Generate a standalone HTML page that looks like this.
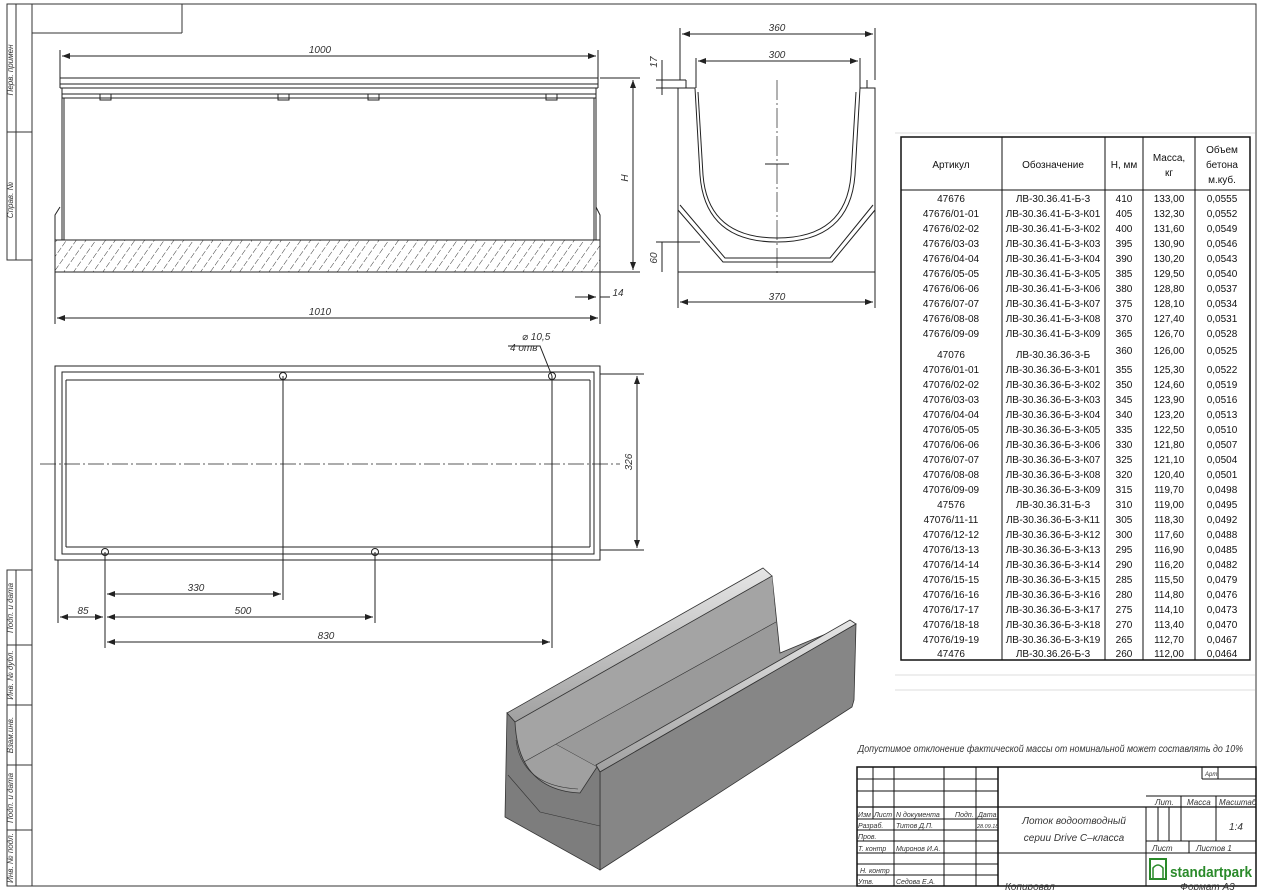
<!DOCTYPE html>
<html><head><meta charset="utf-8"><style>
html,body{margin:0;padding:0;background:#fff}
svg{display:block;font-family:"Liberation Sans","DejaVu Sans",sans-serif}
.t{font-style:italic;font-size:10px;fill:#333}
.tb{font-size:10px;fill:#111}
</style></head><body>
<svg width="1261" height="890" viewBox="0 0 1261 890" xmlns="http://www.w3.org/2000/svg">
<defs>
<pattern id="h" width="8" height="8" patternUnits="userSpaceOnUse" patternTransform="rotate(35)">
<line x1="0" y1="0" x2="0" y2="8" stroke="#222" stroke-width="0.9" stroke-dasharray="6 2"/>
</pattern>
<marker id="a" markerWidth="8" markerHeight="6" refX="8" refY="3" orient="auto-start-reverse"><path d="M0,0L8,3L0,6z" fill="#222"/></marker>
<linearGradient id="rail" x1="0" y1="0" x2="0" y2="1"><stop offset="0" stop-color="#e6e6e6"/><stop offset="1" stop-color="#a0a0a0"/></linearGradient>
</defs>
<g fill="none" stroke="#333" stroke-width="1">
<rect x="32" y="4" width="1224" height="882"/>
<line x1="32" y1="33" x2="182" y2="33"/><line x1="182" y1="4" x2="182" y2="33"/>
<rect x="7" y="4" width="25" height="256"/><line x1="16" y1="4" x2="16" y2="260"/><line x1="7" y1="132" x2="32" y2="132"/>
<rect x="7" y="570" width="25" height="316"/><line x1="16" y1="570" x2="16" y2="886"/>
<line x1="7" y1="645" x2="32" y2="645"/><line x1="7" y1="705" x2="32" y2="705"/><line x1="7" y1="765" x2="32" y2="765"/><line x1="7" y1="830" x2="32" y2="830"/>
</g>
<g class="t" font-size="8">
<text transform="translate(13,70) rotate(-90)" text-anchor="middle" font-size="8">Перв. примен</text>
<text transform="translate(13,200) rotate(-90)" text-anchor="middle" font-size="8">Справ. №</text>
<text transform="translate(13,608) rotate(-90)" text-anchor="middle" font-size="8">Подп. и дата</text>
<text transform="translate(13,675) rotate(-90)" text-anchor="middle" font-size="8">Инв. № дубл.</text>
<text transform="translate(13,735) rotate(-90)" text-anchor="middle" font-size="8">Взам.инв.</text>
<text transform="translate(13,798) rotate(-90)" text-anchor="middle" font-size="8">Подп. и дата</text>
<text transform="translate(13,858) rotate(-90)" text-anchor="middle" font-size="8">Инв. № подл.</text>
</g>

<!-- side view -->
<g fill="none" stroke="#222" stroke-width="1">
<rect x="55" y="240" width="545" height="32" fill="url(#h)"/>
<line x1="60" y1="78" x2="598" y2="78"/><line x1="60" y1="84" x2="598" y2="84"/>
<line x1="60" y1="88" x2="598" y2="88"/><line x1="62" y1="94" x2="596" y2="94"/><line x1="62" y1="98" x2="596" y2="98"/>
<line x1="60" y1="78" x2="60" y2="88"/><line x1="598" y1="78" x2="598" y2="88"/>
<line x1="62" y1="88" x2="62" y2="240"/><line x1="64" y1="98" x2="64" y2="240"/>
<line x1="596" y1="88" x2="596" y2="240"/><line x1="594" y1="98" x2="594" y2="240"/>
<path d="M55,272 V215 L60,207"/><path d="M600,272 V215 L596,207"/>
<rect x="100" y="94" width="11" height="6"/><rect x="278" y="94" width="11" height="6"/><rect x="368" y="94" width="11" height="6"/><rect x="546" y="94" width="11" height="6"/>
<line x1="60" y1="78" x2="60" y2="50"/><line x1="598" y1="78" x2="598" y2="50"/>
<line x1="62" y1="56" x2="596" y2="56" marker-start="url(#a)" marker-end="url(#a)"/>
<line x1="600" y1="78" x2="640" y2="78"/><line x1="600" y1="272" x2="640" y2="272"/>
<line x1="633" y1="80" x2="633" y2="270" marker-start="url(#a)" marker-end="url(#a)"/>
<line x1="55" y1="272" x2="55" y2="324"/><line x1="600" y1="272" x2="600" y2="324"/>
<line x1="57" y1="318" x2="598" y2="318" marker-start="url(#a)" marker-end="url(#a)"/>
<line x1="575" y1="297" x2="596" y2="297" marker-end="url(#a)"/><line x1="600" y1="297" x2="610" y2="297"/>
</g>
<text class="t" x="320" y="53" text-anchor="middle">1000</text>
<text class="t" transform="translate(628,178) rotate(-90)" text-anchor="middle">H</text>
<text class="t" x="320" y="315" text-anchor="middle">1010</text>
<text class="t" x="618" y="296" text-anchor="middle" font-size="9">14</text>

<!-- plan view -->
<g fill="none" stroke="#222" stroke-width="1">
<rect x="55" y="366" width="545" height="194"/>
<rect x="62" y="372" width="532" height="182"/>
<line x1="66" y1="380" x2="590" y2="380"/><line x1="66" y1="547" x2="590" y2="547"/>
<line x1="66" y1="380" x2="66" y2="547"/><line x1="590" y1="380" x2="590" y2="547"/>
<line x1="40" y1="464" x2="620" y2="464" stroke-dasharray="16 3 2 3" stroke-width="0.7"/>
<line x1="283" y1="380" x2="283" y2="547" stroke-width="0.7"/>
<circle cx="283" cy="376" r="3.5"/><circle cx="552" cy="376" r="3.5"/><circle cx="105" cy="552" r="3.5"/><circle cx="375" cy="552" r="3.5"/>
<line x1="600" y1="374" x2="644" y2="374"/><line x1="600" y1="550" x2="644" y2="550"/>
<line x1="637" y1="376" x2="637" y2="548" marker-start="url(#a)" marker-end="url(#a)"/>
<line x1="283" y1="376" x2="283" y2="600"/><line x1="552" y1="376" x2="552" y2="648"/><line x1="105" y1="552" x2="105" y2="648"/><line x1="375" y1="552" x2="375" y2="623"/><line x1="58" y1="560" x2="58" y2="623"/>
<line x1="107" y1="594" x2="281" y2="594" marker-start="url(#a)" marker-end="url(#a)"/>
<line x1="107" y1="617" x2="373" y2="617" marker-start="url(#a)" marker-end="url(#a)"/>
<line x1="60" y1="617" x2="103" y2="617" marker-start="url(#a)" marker-end="url(#a)"/>
<line x1="107" y1="642" x2="550" y2="642" marker-start="url(#a)" marker-end="url(#a)"/>
<path d="M552,376 L540,346 H508"/>
</g>
<text class="t" x="522" y="340">⌀ 10,5</text><text class="t" x="510" y="351">4 отв</text>
<text class="t" transform="translate(632,462) rotate(-90)" text-anchor="middle">326</text>
<text class="t" x="196" y="591" text-anchor="middle">330</text>
<text class="t" x="243" y="614" text-anchor="middle">500</text>
<text class="t" x="83" y="614" text-anchor="middle">85</text>
<text class="t" x="326" y="639" text-anchor="middle">830</text>

<!-- cross section -->
<g fill="none" stroke="#222" stroke-width="1">
<path d="M678,272 V88 H686 V80 M875,272 V88 H867 V80"/>
<line x1="678" y1="272" x2="875" y2="272"/>
<path d="M686,88 H695 L700,175 Q705,242 777,242 Q850,242 855,175 L860,88 H867"/>
<path d="M698,92 L703,175 Q708,238 777,238 Q846,238 851,175 L856,92"/>
<path d="M678,210 L723,262 H832 L875,210"/><path d="M680,205 L725,258 H830 L873,205"/>
<line x1="777" y1="80" x2="777" y2="275" stroke-dasharray="20 3 2 3" stroke-width="0.7"/>
<line x1="765" y1="164" x2="789" y2="164"/>
<line x1="680" y1="80" x2="680" y2="28"/><line x1="875" y1="80" x2="875" y2="28"/>
<line x1="682" y1="34" x2="873" y2="34" marker-start="url(#a)" marker-end="url(#a)"/>
<line x1="696" y1="88" x2="696" y2="58"/><line x1="860" y1="88" x2="860" y2="58"/>
<line x1="698" y1="61" x2="858" y2="61" marker-start="url(#a)" marker-end="url(#a)"/>
<line x1="678" y1="272" x2="678" y2="308"/><line x1="875" y1="272" x2="875" y2="308"/>
<line x1="680" y1="302" x2="873" y2="302" marker-start="url(#a)" marker-end="url(#a)"/>
<line x1="656" y1="80" x2="686" y2="80"/><line x1="656" y1="88" x2="686" y2="88"/><line x1="662" y1="60" x2="662" y2="95"/>
<line x1="656" y1="242" x2="700" y2="242"/><line x1="662" y1="242" x2="662" y2="272"/>
</g>
<text class="t" x="777" y="31" text-anchor="middle">360</text>
<text class="t" x="777" y="58" text-anchor="middle">300</text>
<text class="t" x="777" y="300" text-anchor="middle">370</text>
<text class="t" transform="translate(657,62) rotate(-90)" text-anchor="middle" font-size="9">17</text>
<text class="t" transform="translate(657,258) rotate(-90)" text-anchor="middle" font-size="9">60</text>

<!-- 3D render -->
<g stroke="#333" stroke-width="0.8">
<polygon points="515,722 772,576 780,653 850,624 597,767" fill="#9a9a9a"/>
<path d="M515,722 Q518,790 580,793 L597,767 Z" fill="#a0a0a0" stroke="none"/>
<polygon points="515,722 772,576 776,622 522,763" fill="#a4a4a4" stroke="none"/>
<line x1="522" y1="763" x2="776" y2="622" stroke-width="0.6"/>
<polygon points="507,713 763,568 772,576 515,722" fill="url(#rail)"/>
<polygon points="596,765 850,620 856,624 600,772" fill="url(#rail)"/>
<polygon points="600,772 856,624 854,700 852,707 600,870" fill="#868686"/>
<path d="M507,713 L515,722 Q518,790 580,793 L597,767 L600,772 L600,870 L505,817 Z" fill="#7d7d7d"/>
<path d="M508,775 L540,812 L600,826" fill="none" stroke-width="0.6"/>
<path d="M516,740 Q522,786 578,789" fill="none" stroke-width="0.6"/>
</g>

<!-- table -->
<g fill="none" stroke="#ddd" stroke-width="1">
<line x1="895" y1="133" x2="1255" y2="133"/><line x1="895" y1="675" x2="1255" y2="675"/><line x1="895" y1="690" x2="1255" y2="690"/>
</g>
<g fill="none" stroke="#111" stroke-width="1">
<rect x="901" y="137" width="349" height="523" stroke-width="1.5"/>
<line x1="901" y1="190" x2="1250" y2="190"/>
<line x1="1002" y1="137" x2="1002" y2="660"/><line x1="1105" y1="137" x2="1105" y2="660"/>
<line x1="1143" y1="137" x2="1143" y2="660"/><line x1="1195" y1="137" x2="1195" y2="660"/>
</g>
<g class="tb" text-anchor="middle">
<text x="951" y="168">Артикул</text><text x="1053" y="168">Обозначение</text><text x="1124" y="168">H, мм</text>
<text x="1169" y="161">Масса,</text><text x="1169" y="176">кг</text>
<text x="1222" y="153">Объем</text><text x="1222" y="168">бетона</text><text x="1222" y="183">м.куб.</text>
</g>
<g class="tb" text-anchor="middle">
<text x="951" y="202">47676</text><text x="1053" y="202">ЛВ-30.36.41-Б-3</text><text x="1124" y="202">410</text><text x="1169" y="202">133,00</text><text x="1222" y="202">0,0555</text>
<text x="951" y="217">47676/01-01</text><text x="1053" y="217">ЛВ-30.36.41-Б-3-К01</text><text x="1124" y="217">405</text><text x="1169" y="217">132,30</text><text x="1222" y="217">0,0552</text>
<text x="951" y="232">47676/02-02</text><text x="1053" y="232">ЛВ-30.36.41-Б-3-К02</text><text x="1124" y="232">400</text><text x="1169" y="232">131,60</text><text x="1222" y="232">0,0549</text>
<text x="951" y="247">47676/03-03</text><text x="1053" y="247">ЛВ-30.36.41-Б-3-К03</text><text x="1124" y="247">395</text><text x="1169" y="247">130,90</text><text x="1222" y="247">0,0546</text>
<text x="951" y="262">47676/04-04</text><text x="1053" y="262">ЛВ-30.36.41-Б-3-К04</text><text x="1124" y="262">390</text><text x="1169" y="262">130,20</text><text x="1222" y="262">0,0543</text>
<text x="951" y="277">47676/05-05</text><text x="1053" y="277">ЛВ-30.36.41-Б-3-К05</text><text x="1124" y="277">385</text><text x="1169" y="277">129,50</text><text x="1222" y="277">0,0540</text>
<text x="951" y="292">47676/06-06</text><text x="1053" y="292">ЛВ-30.36.41-Б-3-К06</text><text x="1124" y="292">380</text><text x="1169" y="292">128,80</text><text x="1222" y="292">0,0537</text>
<text x="951" y="307">47676/07-07</text><text x="1053" y="307">ЛВ-30.36.41-Б-3-К07</text><text x="1124" y="307">375</text><text x="1169" y="307">128,10</text><text x="1222" y="307">0,0534</text>
<text x="951" y="322">47676/08-08</text><text x="1053" y="322">ЛВ-30.36.41-Б-3-К08</text><text x="1124" y="322">370</text><text x="1169" y="322">127,40</text><text x="1222" y="322">0,0531</text>
<text x="951" y="337">47676/09-09</text><text x="1053" y="337">ЛВ-30.36.41-Б-3-К09</text><text x="1124" y="337">365</text><text x="1169" y="337">126,70</text><text x="1222" y="337">0,0528</text>
<text x="951" y="358">47076</text><text x="1053" y="358">ЛВ-30.36.36-3-Б</text><text x="1124" y="354">360</text><text x="1169" y="354">126,00</text><text x="1222" y="354">0,0525</text>
<text x="951" y="373">47076/01-01</text><text x="1053" y="373">ЛВ-30.36.36-Б-3-К01</text><text x="1124" y="373">355</text><text x="1169" y="373">125,30</text><text x="1222" y="373">0,0522</text>
<text x="951" y="388">47076/02-02</text><text x="1053" y="388">ЛВ-30.36.36-Б-3-К02</text><text x="1124" y="388">350</text><text x="1169" y="388">124,60</text><text x="1222" y="388">0,0519</text>
<text x="951" y="403">47076/03-03</text><text x="1053" y="403">ЛВ-30.36.36-Б-3-К03</text><text x="1124" y="403">345</text><text x="1169" y="403">123,90</text><text x="1222" y="403">0,0516</text>
<text x="951" y="418">47076/04-04</text><text x="1053" y="418">ЛВ-30.36.36-Б-3-К04</text><text x="1124" y="418">340</text><text x="1169" y="418">123,20</text><text x="1222" y="418">0,0513</text>
<text x="951" y="433">47076/05-05</text><text x="1053" y="433">ЛВ-30.36.36-Б-3-К05</text><text x="1124" y="433">335</text><text x="1169" y="433">122,50</text><text x="1222" y="433">0,0510</text>
<text x="951" y="448">47076/06-06</text><text x="1053" y="448">ЛВ-30.36.36-Б-3-К06</text><text x="1124" y="448">330</text><text x="1169" y="448">121,80</text><text x="1222" y="448">0,0507</text>
<text x="951" y="463">47076/07-07</text><text x="1053" y="463">ЛВ-30.36.36-Б-3-К07</text><text x="1124" y="463">325</text><text x="1169" y="463">121,10</text><text x="1222" y="463">0,0504</text>
<text x="951" y="478">47076/08-08</text><text x="1053" y="478">ЛВ-30.36.36-Б-3-К08</text><text x="1124" y="478">320</text><text x="1169" y="478">120,40</text><text x="1222" y="478">0,0501</text>
<text x="951" y="493">47076/09-09</text><text x="1053" y="493">ЛВ-30.36.36-Б-3-К09</text><text x="1124" y="493">315</text><text x="1169" y="493">119,70</text><text x="1222" y="493">0,0498</text>
<text x="951" y="508">47576</text><text x="1053" y="508">ЛВ-30.36.31-Б-3</text><text x="1124" y="508">310</text><text x="1169" y="508">119,00</text><text x="1222" y="508">0,0495</text>
<text x="951" y="523">47076/11-11</text><text x="1053" y="523">ЛВ-30.36.36-Б-3-К11</text><text x="1124" y="523">305</text><text x="1169" y="523">118,30</text><text x="1222" y="523">0,0492</text>
<text x="951" y="538">47076/12-12</text><text x="1053" y="538">ЛВ-30.36.36-Б-3-К12</text><text x="1124" y="538">300</text><text x="1169" y="538">117,60</text><text x="1222" y="538">0,0488</text>
<text x="951" y="553">47076/13-13</text><text x="1053" y="553">ЛВ-30.36.36-Б-3-К13</text><text x="1124" y="553">295</text><text x="1169" y="553">116,90</text><text x="1222" y="553">0,0485</text>
<text x="951" y="568">47076/14-14</text><text x="1053" y="568">ЛВ-30.36.36-Б-3-К14</text><text x="1124" y="568">290</text><text x="1169" y="568">116,20</text><text x="1222" y="568">0,0482</text>
<text x="951" y="583">47076/15-15</text><text x="1053" y="583">ЛВ-30.36.36-Б-3-К15</text><text x="1124" y="583">285</text><text x="1169" y="583">115,50</text><text x="1222" y="583">0,0479</text>
<text x="951" y="598">47076/16-16</text><text x="1053" y="598">ЛВ-30.36.36-Б-3-К16</text><text x="1124" y="598">280</text><text x="1169" y="598">114,80</text><text x="1222" y="598">0,0476</text>
<text x="951" y="613">47076/17-17</text><text x="1053" y="613">ЛВ-30.36.36-Б-3-К17</text><text x="1124" y="613">275</text><text x="1169" y="613">114,10</text><text x="1222" y="613">0,0473</text>
<text x="951" y="628">47076/18-18</text><text x="1053" y="628">ЛВ-30.36.36-Б-3-К18</text><text x="1124" y="628">270</text><text x="1169" y="628">113,40</text><text x="1222" y="628">0,0470</text>
<text x="951" y="643">47076/19-19</text><text x="1053" y="643">ЛВ-30.36.36-Б-3-К19</text><text x="1124" y="643">265</text><text x="1169" y="643">112,70</text><text x="1222" y="643">0,0467</text>
<text x="951" y="657">47476</text><text x="1053" y="657">ЛВ-30.36.26-Б-3</text><text x="1124" y="657">260</text><text x="1169" y="657">112,00</text><text x="1222" y="657">0,0464</text>
</g>

<text class="t" x="858" y="752" font-size="10" textLength="385" lengthAdjust="spacingAndGlyphs">Допустимое отклонение фактической массы от номинальной может составлять до 10%</text>

<!-- title block -->
<g fill="none" stroke="#111" stroke-width="1">
<rect x="857" y="767" width="399" height="119" stroke-width="1.5"/>
<line x1="998" y1="767" x2="998" y2="886" stroke-width="1.5"/>
<line x1="857" y1="779" x2="998" y2="779"/><line x1="857" y1="791" x2="998" y2="791"/><line x1="857" y1="807" x2="1256" y2="807" stroke-width="1.2"/>
<line x1="857" y1="819" x2="998" y2="819"/><line x1="857" y1="830" x2="998" y2="830"/><line x1="857" y1="841" x2="998" y2="841"/><line x1="857" y1="853" x2="998" y2="853"/><line x1="857" y1="864" x2="998" y2="864"/><line x1="857" y1="875" x2="998" y2="875"/>
<line x1="873" y1="767" x2="873" y2="819"/><line x1="894" y1="767" x2="894" y2="886"/><line x1="944" y1="767" x2="944" y2="886"/><line x1="976" y1="767" x2="976" y2="886"/>
<line x1="998" y1="853" x2="1256" y2="853"/>
<line x1="1146" y1="807" x2="1146" y2="886"/><line x1="1146" y1="841" x2="1256" y2="841"/>
<line x1="1181" y1="796" x2="1181" y2="841"/><line x1="1216" y1="796" x2="1216" y2="841"/><line x1="1146" y1="796" x2="1256" y2="796"/>
<line x1="1158" y1="807" x2="1158" y2="841"/><line x1="1169" y1="807" x2="1169" y2="841"/>
<line x1="1202" y1="767" x2="1202" y2="779"/><line x1="1218" y1="767" x2="1218" y2="779"/><line x1="1202" y1="779" x2="1256" y2="779"/>
<line x1="1189" y1="841" x2="1189" y2="853"/>
</g>
<g class="t" font-size="7">
<text x="858" y="817" font-size="7">Изм</text><text x="874" y="817" font-size="7">Лист</text><text x="896" y="817" font-size="7">N документа</text><text x="955" y="817" font-size="7">Подп.</text><text x="978" y="817" font-size="7">Дата</text>
<text x="858" y="828" font-size="7">Разраб.</text><text x="896" y="828" font-size="7">Титов Д.П.</text><text x="977" y="828" font-size="5.5">28.09.18</text>
<text x="858" y="839" font-size="7">Пров.</text><text x="858" y="851" font-size="7">Т. контр</text><text x="896" y="851" font-size="7">Миронов И.А.</text>
<text x="860" y="873" font-size="7">Н. контр</text><text x="858" y="884" font-size="7">Утв.</text><text x="896" y="884" font-size="7">Седова Е.А.</text>
<text x="1205" y="776" font-size="6">Арт</text>
<text x="1155" y="805" font-size="8">Лит.</text><text x="1187" y="805" font-size="8">Масса</text><text x="1219" y="805" font-size="8">Масштаб</text>
<text x="1152" y="851" font-size="8">Лист</text><text x="1196" y="851" font-size="8">Листов 1</text>
</g>
<text class="t" x="1074" y="824" text-anchor="middle" font-size="14">Лоток водоотводный</text>
<text class="t" x="1074" y="841" text-anchor="middle" font-size="14">серии Drive C–класса</text>
<text class="t" x="1236" y="830" text-anchor="middle" font-size="13">1:4</text>
<g>
<rect x="1150" y="859" width="16" height="20" fill="none" stroke="#2a8a2a" stroke-width="2"/>
<path d="M1153,879 V868 Q1158,862 1163,868 V879" fill="none" stroke="#2a8a2a" stroke-width="1.5"/>
<text x="1170" y="877" font-size="15" font-weight="bold" fill="#2a8a2a" textLength="82" lengthAdjust="spacingAndGlyphs">standartpark</text>
</g>
<text class="t" x="1005" y="890" font-size="7">Копировал</text><text class="t" x="1180" y="890" font-size="7">Формат А3</text>
</svg>
</body></html>
